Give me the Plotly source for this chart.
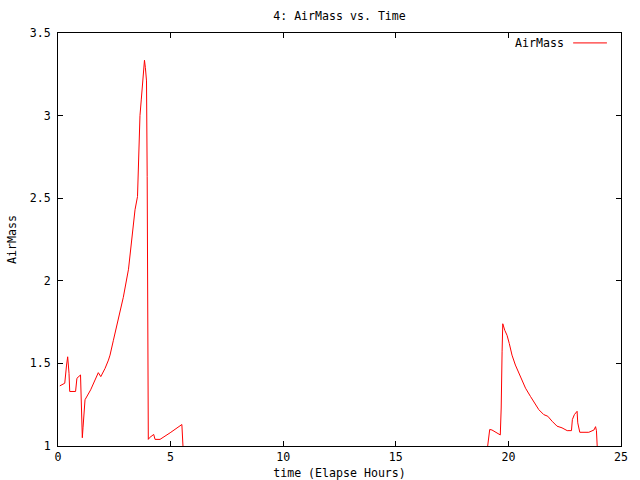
import plotly.graph_objects as go

# time (elapsed hours) and AirMass values
time_h = [0.08, 0.3, 0.38, 0.43, 0.49, 0.52, 0.78, 0.84, 1.0, 1.04, 1.08, 1.11, 1.17, 1.2,
          1.45, 1.65, 1.79, 1.9, 2.09, 2.24, 2.31, 2.46, 2.68, 2.9, 3.13, 3.27, 3.42, 3.53,
          3.56, 3.6, 3.64, 3.70, 3.75, 3.79, 3.84, 3.88, 3.93, 3.96, 3.99, 4.01, 4.06, 4.25,
          4.31, 4.53, 4.98, 5.17, 5.5, 5.93,
          18.18, 19.17, 19.27, 19.64, 19.68, 19.72, 19.75, 19.84, 19.94, 20.04, 20.16, 20.31,
          20.53, 20.76, 20.98, 21.2, 21.35, 21.57, 21.75, 21.94, 22.16, 22.38, 22.61, 22.8,
          22.84, 22.93, 23.05, 23.08, 23.17, 23.57, 23.8, 23.87, 23.91, 24.3]
airmass = [1.364, 1.38, 1.49, 1.54, 1.44, 1.33, 1.33, 1.41, 1.43, 1.15, 1.05, 1.11, 1.22, 1.28,
           1.34, 1.40, 1.444, 1.42, 1.47, 1.52, 1.55, 1.64, 1.78, 1.90, 2.07, 2.23, 2.43, 2.51,
           2.67, 2.85, 3.0, 3.10, 3.20, 3.28, 3.335, 3.29, 3.21, 2.63, 1.57, 1.04, 1.05, 1.07,
           1.04, 1.04, 1.08, 1.10, 1.13, 0.0,
           0.0, 1.10, 1.097, 1.067, 1.23, 1.57, 1.74, 1.70, 1.67, 1.62, 1.55, 1.49,
           1.42, 1.35, 1.30, 1.25, 1.22, 1.19, 1.18, 1.15, 1.12, 1.11, 1.093, 1.093,
           1.16, 1.19, 1.21, 1.14, 1.083, 1.083, 1.097, 1.117, 1.093, 0.0]

x_ticks = [0, 5, 10, 15, 20, 25]
y_ticks = [1, 1.5, 2, 2.5, 3, 3.5]
y_tick_labels = ["1", "1.5", "2", "2.5", "3", "3.5"]

FONT = "DejaVu Sans Mono"
FS = 11.6

fig = go.Figure()
fig.add_trace(go.Scatter(x=time_h, y=airmass, mode="lines", name="AirMass",
                         line=dict(color="#ff0000", width=1), showlegend=False))

axis_common = dict(showline=True, linecolor="black", linewidth=1, mirror="ticks",
                   ticks="inside", ticklen=5, tickcolor="black", tickwidth=1,
                   showgrid=False, zeroline=False, automargin=False,
                   tickfont=dict(family=FONT, size=FS, color="black"))

fig.update_xaxes(range=[0, 25], tickvals=x_ticks, ticktext=[str(v) for v in x_ticks],
                 title=dict(text="time (Elapse Hours)", font=dict(family=FONT, size=FS, color="black"),
                            standoff=6),
                 **axis_common)
fig.update_yaxes(range=[1, 3.5], tickvals=y_ticks, ticktext=y_tick_labels,
                 ticklabelstandoff=4,
                 title=dict(text="AirMass", font=dict(family=FONT, size=FS, color="black"),
                            standoff=10),
                 **axis_common)

# gnuplot-style legend: text then line sample
fig.add_annotation(x=0.903, y=0.976, xref="paper", yref="paper", text="AirMass",
                   showarrow=False, xanchor="right", yanchor="middle",
                   font=dict(family=FONT, size=FS, color="black"))
fig.add_shape(type="line", xref="paper", yref="paper", x0=0.915, x1=0.975, y0=0.976, y1=0.976,
              line=dict(color="#ff0000", width=1))

fig.update_layout(
    width=640, height=480,
    margin=dict(l=58, r=19, t=33, b=34, autoexpand=False),
    paper_bgcolor="white", plot_bgcolor="white",
    title=dict(text="4: AirMass vs. Time", xref="paper", x=0.5, xanchor="center",
               y=0.967, yanchor="middle",
               font=dict(family=FONT, size=FS, color="black")),
)

fig.write_html("out.html", config={"displayModeBar": False},
               post_script="document.body.style.margin='0';")
